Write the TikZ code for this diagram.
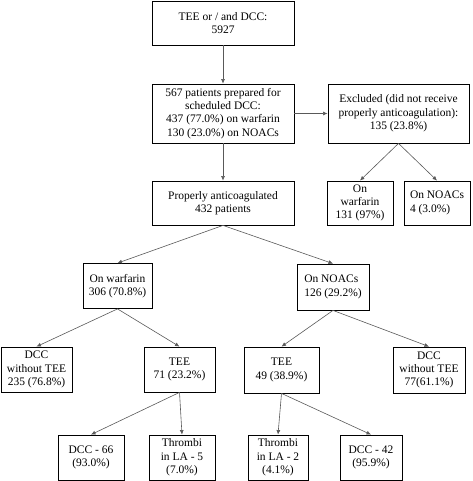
\documentclass[tikz,border=0pt]{standalone}
\usepackage{fontspec}
\setmainfont{Liberation Serif}
\usetikzlibrary{arrows.meta}

\tikzset{
  box/.style={draw, line width=0.8pt, align=center, inner sep=1pt,
    font=\fontsize{11.5}{13.3}\selectfont},
  lbox/.style={box, align=left},
  flow/.style={draw=black!65, line width=0.6pt,
    -{Latex[length=4.5pt,width=4pt]}}
}

\begin{document}
\begin{tikzpicture}[x=1pt,y=-1pt]
  \useasboundingbox (0,0) rectangle (472,481);
      \node[box, minimum width=142, minimum height=44](start) at (223,23){TEE or / and DCC:\\5927};
      \node[box, minimum width=142, minimum height=59](prep) at (223,113.5){567 patients prepared for\\scheduled DCC:\\437 (77.0\%) on warfarin\\130 (23.0\%) on NOACs};
      \node[box, minimum width=141, minimum height=59](excl) at (398.5,113.5){Excluded (did not receive\\properly anticoagulation):\\135 (23.8\%)};
        \node[box, minimum width=66, minimum height=44](exwarf) at (360,203){On\\warfarin\\131 (97\%)};
        \node[lbox, minimum width=66, minimum height=44](exnoac) at (437,203){On NOACs\\4 (3.0\%)};
      \node[box, minimum width=142, minimum height=44](proper) at (223,203){Properly anticoagulated\\432 patients};

      \node[box, minimum width=69, minimum height=45](warf) at (117.5,286){On warfarin\\306 (70.8\%)};
      \node[lbox, minimum width=72, minimum height=46](noac) at (333,287){On NOACs\\126 (29.2\%)};

        \node[box, minimum width=71, minimum height=45](dccw) at (36.5,369.5){DCC\\without TEE\\235 (76.8\%)};
        \node[box, minimum width=71, minimum height=45](teew) at (179.5,369.5){TEE\\71 (23.2\%)};
        \node[box, minimum width=75, minimum height=46](teen) at (281.5,370){TEE\\49 (38.9\%)};
        \node[box, minimum width=72, minimum height=46](dccn) at (429,370){DCC\\without TEE\\77(61.1\%)};

                \node[box, minimum width=66, minimum height=45](dccw66) at (91,457.5){DCC - 66\\(93.0\%)};
                \node[box, minimum width=66, minimum height=45](thrw) at (182,457.5){Thrombi\\in LA - 5\\(7.0\%)};
                \node[box, minimum width=60, minimum height=45](thrn) at (278,457.5){Thrombi\\in LA - 2\\(4.1\%)};
                \node[box, minimum width=62, minimum height=45](dccn42) at (371,457.5){DCC - 42\\(95.9\%)};

  \draw[flow](start.south)--(prep.north);
  \draw[flow](prep.east)--(excl.west);
  \draw[flow](prep.south)--(proper.north);
  \draw[flow](excl.south)--(exwarf.north);
  \draw[flow](excl.south)--(exnoac.north);
  \draw[flow](proper.south)--(warf.north);
  \draw[flow](proper.south)--(noac.north);
  \draw[flow](warf.south)--(dccw.north);
  \draw[flow](warf.south)--(teew.north);
  \draw[flow](noac.south)--(teen.north);
  \draw[flow](noac.south)--(dccn.north);
  \draw[flow](teew.south)--(dccw66.north);
  \draw[flow](teew.south)--(thrw.north);
  \draw[flow](teen.south)--(thrn.north);
  \draw[flow](teen.south)--(dccn42.north);

\end{tikzpicture}
\end{document}
